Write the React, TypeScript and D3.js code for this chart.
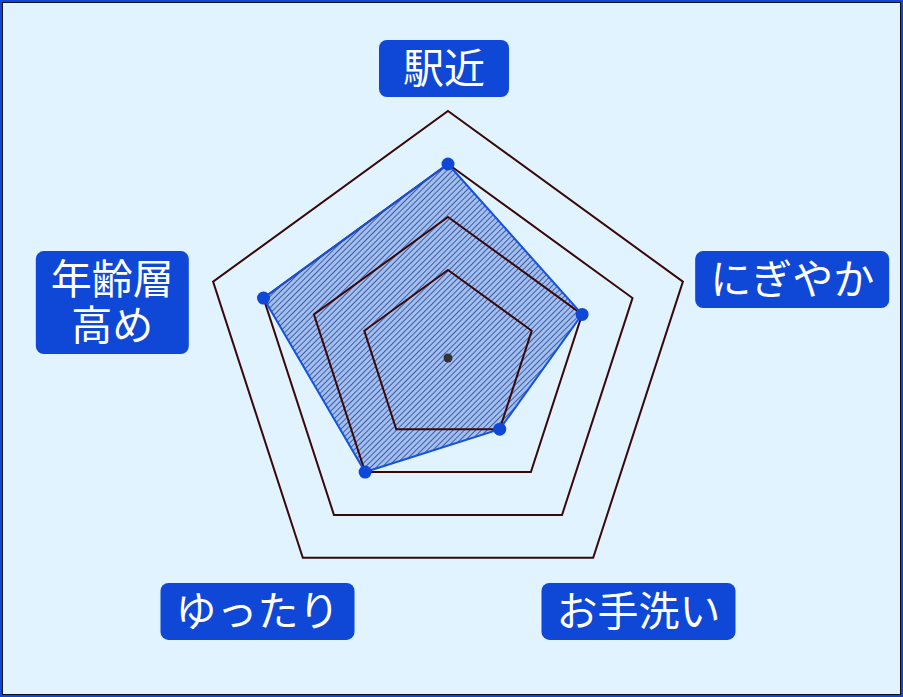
import { useEffect, useRef } from 'react';
import * as d3 from 'd3';

// axis labels, clockwise from the top
const axes = ['駅近', 'にぎやか', 'お手洗い', 'ゆったり', '年齢層高め'];
const labelLines = [['駅近'], ['にぎやか'], ['お手洗い'], ['ゆったり'], ['年齢層', '高め']];
const values = [3, 2, 1, 2, 3];
const levels = [1, 2, 3, 4];

const W = 903;
const H = 697;

export default function App() {
  const svgRef = useRef<SVGSVGElement>(null);

  useEffect(() => {
    if (!svgRef.current) return;
    const svg = d3.select(svgRef.current);
    svg.selectAll('*').remove();

    const cx = 448;
    const cy = 358;
    const r = d3.scaleLinear().domain([0, 4]).range([35, 247]);
    const angle = (i: number) => -Math.PI / 2 + (i * 2 * Math.PI) / axes.length;
    const pt = (i: number, rad: number): [number, number] => [
      cx + Math.cos(angle(i)) * rad,
      cy + Math.sin(angle(i)) * rad,
    ];

    // background + frame
    svg.append('rect').attr('x', 0).attr('y', 0).attr('width', W).attr('height', H).attr('fill', '#0f47d6');
    svg.append('rect').attr('x', 2).attr('y', 2).attr('width', W - 4).attr('height', H - 4).attr('fill', '#111');
    svg.append('rect').attr('x', 3).attr('y', 3).attr('width', W - 6).attr('height', H - 6).attr('fill', '#e0f3fe');

    const defs = svg.append('defs');
    const pat = defs.append('pattern')
      .attr('id', 'hatch')
      .attr('patternUnits', 'userSpaceOnUse')
      .attr('width', 4)
      .attr('height', 4)
      .attr('patternTransform', 'rotate(45)');
    pat.append('line')
      .attr('x1', 0.5).attr('y1', 0).attr('x2', 0.5).attr('y2', 4)
      .attr('stroke', '#1c2a66')
      .attr('stroke-width', 0.9);

    const line = d3.line<[number, number]>().curve(d3.curveLinearClosed);
    const dataPts = values.map((v, i) => pt(i, r(v)));

    // data area
    svg.append('path')
      .attr('d', line(dataPts))
      .attr('fill', '#1a55e2')
      .attr('fill-opacity', 0.32);
    svg.append('path')
      .attr('d', line(dataPts))
      .attr('fill', 'url(#hatch)')
      .attr('opacity', 0.75);

    // grid rings
    levels.forEach(l => {
      svg.append('path')
        .attr('d', line(axes.map((_, i) => pt(i, r(l)))))
        .attr('fill', 'none')
        .attr('stroke', '#3a0808')
        .attr('stroke-width', 2);
    });

    svg.append('path')
      .attr('d', line(dataPts))
      .attr('fill', 'none')
      .attr('stroke', '#1652e0')
      .attr('stroke-width', 2);

    svg.selectAll('circle.pt')
      .data(dataPts)
      .join('circle')
      .attr('class', 'pt')
      .attr('cx', d => d[0])
      .attr('cy', d => d[1])
      .attr('r', 6.5)
      .attr('fill', '#0f47d6');

    svg.append('circle').attr('cx', cx).attr('cy', cy).attr('r', 4.5).attr('fill', '#333');

    // labels
    const fs = 41;
    const lh = 46;
    const labelR = 262;
    labelLines.forEach((lines, i) => {
      const g = svg.append('g');
      const text = g.append('text')
        .attr('font-family', '"Noto Sans CJK JP", "Noto Sans", sans-serif')
        .attr('font-size', fs)
        .attr('fill', '#fff')
        .attr('text-anchor', 'middle');
      const spans = lines.map((t, k) =>
        text.append('tspan').attr('dy', k === 0 ? 0 : lh).text(t)
      );
      const tw = d3.max(spans, t => (t.node() as SVGTSpanElement).getComputedTextLength()) || 0;
      const bw = Math.max(130, tw + 30);
      const bh = 57 + (lines.length - 1) * lh;
      const [ax, ay] = pt(i, labelR);
      const c = Math.cos(angle(i));
      const s = Math.sin(angle(i));
      let bx: number;
      let by: number;
      if (s < -0.9) {
        bx = ax - bw / 2 - 4;
        by = ay - bh + 1;
      } else if (s > 0.5) {
        bx = ax + c * bw * 0.32 - bw / 2;
        by = ay + 13;
      } else {
        bx = c > 0 ? ax - 2 : ax - bw - 10;
        by = ay - 26;
      }
      g.insert('rect', 'text')
        .attr('x', bx)
        .attr('y', by)
        .attr('width', bw)
        .attr('height', bh)
        .attr('rx', 8)
        .attr('fill', '#0f47d6');
      text.attr('y', by + 43);
      spans.forEach(t => t.attr('x', bx + bw / 2));
    });
  }, []);

  return (
    <svg
      ref={svgRef}
      width={W}
      height={H}
      style={{ position: 'absolute', left: 0, top: 0 }}
    />
  );
}
